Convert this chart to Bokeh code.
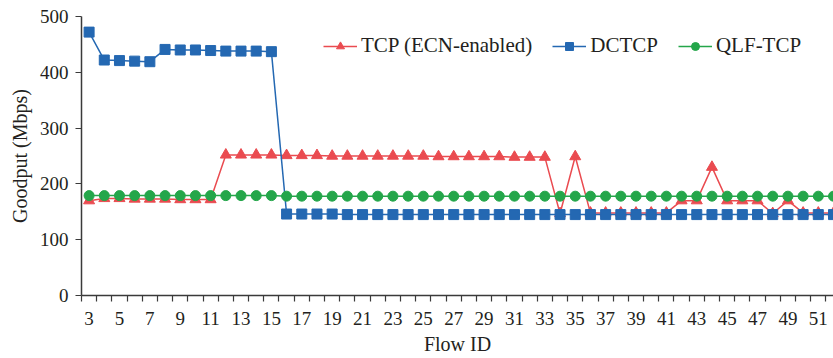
from bokeh.plotting import figure
from bokeh.models import FixedTicker, Legend, LegendItem, Range1d
from bokeh.embed import file_html
from bokeh.resources import INLINE

flow_ids = [3, 4, 5, 6, 7, 8, 9, 10, 11, 12, 13, 14, 15, 16, 17, 18, 19, 20, 21, 22,
            23, 24, 25, 26, 27, 28, 29, 30, 31, 32, 33, 34, 35, 36, 37, 38, 39, 40, 41, 42,
            43, 44, 45, 46, 47, 48, 49, 50, 51, 52]
x_tick_labels = [3, 5, 7, 9, 11, 13, 15, 17, 19, 21, 23, 25, 27, 29, 31, 33, 35, 37, 39,
                 41, 43, 45, 47, 49, 51]
y_ticks = [0, 100, 200, 300, 400, 500]

tcp_ecn = [170, 174, 174, 173, 173, 173, 172, 172, 172, 252, 252, 252, 252, 251, 251, 251,
           250, 250, 250, 250, 250, 250, 250, 249, 249, 249, 249, 249, 248, 248, 248, 147,
           249, 148, 148, 148, 148, 148, 148, 170, 170, 230, 170, 170, 170, 147, 170, 148,
           148, 148]
dctcp = [472, 422, 421, 420, 419, 441, 440, 440, 439, 438, 438, 438, 437, 146, 146, 146,
         146, 145, 145, 145, 145, 145, 145, 145, 145, 145, 145, 145, 145, 145, 145, 145,
         145, 145, 145, 145, 145, 145, 145, 145, 145, 145, 145, 145, 145, 145, 145, 145,
         145, 145]
qlf_tcp = [179, 179, 179, 179, 179, 179, 179, 179, 179, 179, 179, 179, 179, 178, 178, 178,
           178, 178, 178, 178, 178, 178, 178, 178, 178, 178, 178, 178, 178, 178, 178, 178,
           178, 178, 178, 178, 178, 178, 178, 178, 178, 178, 178, 178, 178, 178, 178, 178,
           178, 178]

RED = "#ea4b50"
BLUE = "#2468b2"
GREEN = "#24a64a"
FONT = "Liberation Serif"
TXT = "#231f20"
AX = "#3a3a3a"

p = figure(width=833, height=358, output_backend="svg", toolbar_location=None,
           x_range=Range1d(2.5, 52.0), y_range=Range1d(0, 500),
           min_border_left=81, min_border_right=0, min_border_top=16, min_border_bottom=63)
p.outline_line_color = None
p.xgrid.visible = False
p.ygrid.visible = False

r_tl = p.line(flow_ids, tcp_ecn, line_color=RED, line_width=1.5)
r_ts = p.scatter(flow_ids, tcp_ecn, marker="triangle", size=11, fill_color=RED, line_color=RED)
r_dl = p.line(flow_ids, dctcp, line_color=BLUE, line_width=1.5)
r_ds = p.scatter(flow_ids, dctcp, marker="square", size=10, fill_color=BLUE, line_color=BLUE)
r_ql = p.line(flow_ids, qlf_tcp, line_color=GREEN, line_width=1.5)
r_qs = p.scatter(flow_ids, qlf_tcp, marker="circle", size=10, fill_color=GREEN, line_color=GREEN)

xa = p.xaxis[0]
xa.ticker = FixedTicker(ticks=x_tick_labels, minor_ticks=[x + 0.5 for x in range(2, 52)])
xa.major_tick_in = 0
xa.major_tick_out = 0
xa.minor_tick_in = 0
xa.minor_tick_out = 6
xa.minor_tick_line_color = AX
xa.minor_tick_line_width = 1.2
xa.major_label_standoff = 10
xa.axis_label = "Flow ID"
xa.axis_label_standoff = 5

ya = p.yaxis[0]
ya.ticker = FixedTicker(ticks=y_ticks)
ya.minor_tick_line_color = None
ya.major_tick_in = 0
ya.major_tick_out = 6
ya.major_label_standoff = 7
ya.axis_label = "Goodput (Mbps)"
ya.axis_label_standoff = 6

for a in (xa, ya):
    a.axis_line_color = AX
    a.axis_line_width = 1.5
    a.major_tick_line_color = AX
    a.major_tick_line_width = 1.2
    a.major_label_text_font = FONT
    a.major_label_text_font_size = "19px"
    a.major_label_text_color = TXT
    a.axis_label_text_font = FONT
    a.axis_label_text_font_size = "20px"
    a.axis_label_text_font_style = "normal"
    a.axis_label_text_color = TXT

legend = Legend(items=[
    LegendItem(label="TCP (ECN-enabled)", renderers=[r_tl, r_ts]),
    LegendItem(label="DCTCP", renderers=[r_dl, r_ds]),
    LegendItem(label="QLF-TCP", renderers=[r_ql, r_qs]),
], location=(242, 237), orientation="horizontal")
legend.border_line_color = None
legend.background_fill_alpha = 0
legend.padding = 0
legend.margin = 0
legend.spacing = 20
legend.glyph_width = 34
legend.glyph_height = 20
legend.label_standoff = 4
legend.label_text_font = FONT
legend.label_text_font_size = "21px"
legend.label_text_color = TXT
p.add_layout(legend, "center")

open("out.html", "w").write(file_html(p, INLINE))
